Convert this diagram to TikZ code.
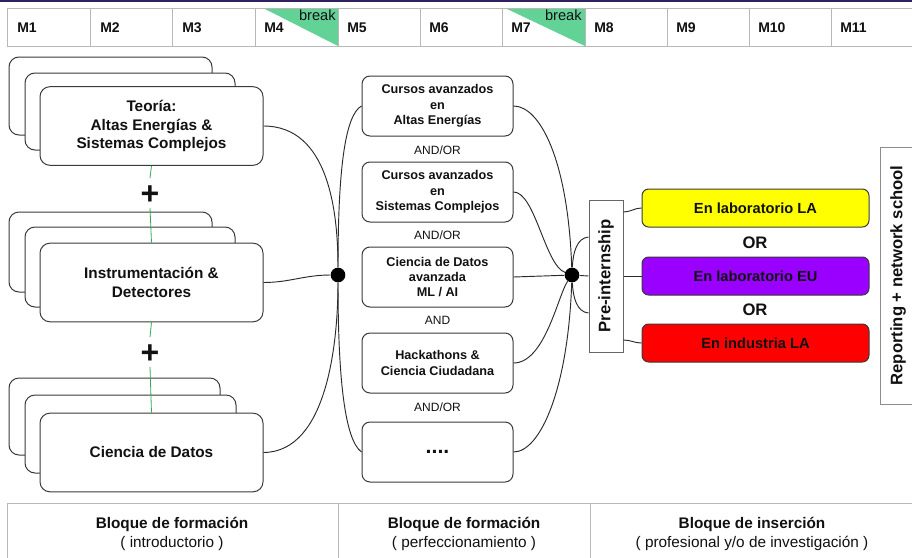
\documentclass[tikz,border=0pt]{standalone}
\usepackage{fontspec}
\usepackage{graphicx}
\setmainfont{Liberation Sans}
\usetikzlibrary{calc}
\definecolor{grn}{HTML}{63D297}
\definecolor{topline}{HTML}{2E1F5E}
\definecolor{gridc}{HTML}{B8B8B8}
\definecolor{boxc}{HTML}{3A3A3A}
\definecolor{linec}{HTML}{2A2A2A}
\definecolor{txt}{HTML}{111111}
\definecolor{yel}{HTML}{FFFF00}
\definecolor{pur}{HTML}{9900FF}
\definecolor{rd}{HTML}{FF0000}
\definecolor{lgreen}{HTML}{34A853}
\definecolor{prec}{HTML}{666666}
\definecolor{repc}{HTML}{8C8C8C}
\begin{document}
\begin{tikzpicture}[x=0.75pt,y=-0.75pt,
  lbox/.style={draw=boxc, line width=0.75pt, rounded corners=7.5pt, fill=white},
  lfront/.style={lbox, minimum width=167.25pt, minimum height=59pt, align=center,
    font=\bfseries\fontsize{11.5}{14}\selectfont, text=txt},
  mbox/.style={draw=boxc, line width=0.75pt, rounded corners=6pt, fill=white,
    minimum width=113.25pt, minimum height=45pt, align=center,
    font=\bfseries\fontsize{9.5}{11.5}\selectfont, text=txt},
  cbox/.style={draw=boxc, line width=0.75pt, rounded corners=5pt,
    minimum width=170.25pt, minimum height=28.5pt,
    font=\bfseries\fontsize{11}{13}\selectfont, text=txt},
  conn/.style={draw=linec, line width=0.7pt},
  jdot/.style={circle, fill=black, inner sep=0pt, minimum size=11pt},
  andlbl/.style={font=\fontsize{9}{10}\selectfont, text=txt, inner sep=1pt},
  orlbl/.style={font=\bfseries\fontsize{12.5}{14}\selectfont, text=txt, inner sep=1pt},
  mlbl/.style={anchor=west, inner sep=0pt, font=\bfseries\fontsize{10.5}{12}\selectfont, text=txt},
  brk/.style={anchor=north east, inner sep=0pt, font=\fontsize{11}{12}\selectfont, text=txt},
  plussign/.style={inner sep=0pt, font=\bfseries\fontsize{24}{24}\selectfont, text=txt,
    text height=16.8pt, text depth=0pt, minimum height=22pt},
  gline/.style={draw=lgreen, line width=0.6pt},
  gridline/.style={draw=gridc, line width=0.75pt},
  bot/.style={align=center, font=\fontsize{11.5}{14.25}\selectfont, text=txt},
  vbox/.style={line width=0.75pt, fill=white, font=\bfseries\fontsize{12.5}{14}\selectfont, text=txt},
]
\useasboundingbox (0,0) rectangle (912,557);
\fill[white] (0,0) rectangle (912,557);

% top month table
\fill[grn] (263,8) -- (338,8) -- (338,46) -- cycle;
\fill[grn] (505,8) -- (585,8) -- (585,46) -- cycle;
\draw[gridline] (7,8) rectangle (930,46);
\foreach \xx in {90,172,255,338,420,502,585,667,749,831}
  \draw[gridline] (\xx,8) -- (\xx,46);
\draw[topline, line width=1.2pt] (0,0.8) -- (912,0.8);
\node[mlbl] (m1l) at (17,28) {M1};
\node[mlbl] (m2l) at (100,28) {M2};
\node[mlbl] (m3l) at (182,28) {M3};
\node[mlbl] (m4l) at (264,28) {M4};
\node[mlbl] (m5l) at (347,28) {M5};
\node[mlbl] (m6l) at (429,28) {M6};
\node[mlbl] (m7l) at (511,28) {M7};
\node[mlbl] (m8l) at (594,28) {M8};
\node[mlbl] (m9l) at (676,28) {M9};
\node[mlbl] (m10l) at (758,28) {M10};
\node[mlbl] (m11l) at (840,28) {M11};
\node[brk] (brk1) at (336,9.5) {break};
\node[brk] (brk2) at (582,9.5) {break};

% left stacks
\draw[lbox] (9,57) rectangle (212,135);
\draw[lbox] (25,73) rectangle (235,150);
\node[lfront] (t1) at (151.5,126) {Teoría:\\Altas Energías \&\\Sistemas Complejos};
\draw[lbox] (9,212) rectangle (212,292);
\draw[lbox] (25,227) rectangle (235,307);
\node[lfront] (t2) at (151.5,282.5) {Instrumentación \&\\Detectores};
\draw[lbox] (9,378) rectangle (220,455);
\draw[lbox] (25,395) rectangle (236,473);
\node[lfront] (t3) at (151.5,452.5) {Ciencia de Datos};

\node[plussign] (p1) at (150,193) {+};
\node[plussign] (p2) at (150,352) {+};
\draw[gline] (t1.south) -- (p1.north);
\draw[gline] (p1.south) -- (t2.north);
\draw[gline] (t2.south) -- (p2.north);
\draw[gline] (p2.south) -- (t3.north);

% middle boxes
\node[mbox] (c1) at (437.5,106) {Cursos avanzados\\en\\Altas Energías};
\node[mbox] (c2) at (437.5,192) {Cursos avanzados\\en\\Sistemas Complejos};
\node[mbox] (c3) at (437.5,277) {Ciencia de Datos\\avanzada\\ML / AI};
\node[mbox] (c4) at (437.5,363) {Hackathons \&\\Ciencia Ciudadana};
\node[mbox, font=\bfseries\fontsize{16}{16}\selectfont] (c5) at (437.5,452) {....};
\node[andlbl] (a1) at (437.5,150) {AND/OR};
\node[andlbl] (a2) at (437.5,235) {AND/OR};
\node[andlbl] (a3) at (437.5,320) {AND};
\node[andlbl] (a4) at (437.5,407) {AND/OR};

% junctions
\node[jdot] (j1) at (338,275) {};
\node[jdot] (j2) at (572,275) {};

% connectors left -> j1
\draw[conn] (t1.east) .. controls (328,126) and (338,210) .. (j1);
\draw[conn] (t2.east) to[out=0,in=180] (j1);
\draw[conn] (t3.east) .. controls (328,452) and (338,340) .. (j1);
% j1 -> middle column
\draw[conn] (j1) .. controls (338,170) and (345,115) .. (c1.west);
\draw[conn] (j1) .. controls (338,380) and (345,440) .. (c5.west);
% middle column -> j2
\draw[conn] (c1.east) .. controls (540,106) and (568,160) .. (j2);
\draw[conn] (c2.east) .. controls (535,192) and (545,265) .. (j2);
\draw[conn] (c3.east) -- (j2);
\draw[conn] (c4.east) .. controls (545,363) and (558,295) .. (j2);
\draw[conn] (c5.east) .. controls (540,452) and (568,390) .. (j2);

% pre-internship
\node[vbox, draw=prec, minimum width=25.5pt, minimum height=114pt] (pre) at (606,276)
  {\rotatebox{90}{Pre-internship}};
\draw[conn] (j2) -- (pre.west);
\draw[conn] (j2) .. controls (573,252) and (577,238) .. ($(pre.west)+(0,-39)$);
\draw[conn] (j2) .. controls (573,298) and (577,312) .. ($(pre.west)+(0,37)$);

% destination boxes
\node[cbox, fill=yel] (la) at (755.5,208) {En laboratorio LA};
\node[cbox, fill=pur] (eu) at (755.5,276) {En laboratorio EU};
\node[cbox, fill=rd] (ind) at (755.5,343) {En industria LA};
\node[orlbl] (or1) at (755,243) {OR};
\node[orlbl] (or2) at (755,310) {OR};
\draw[conn] ($(pre.east)+(0,-64)$) to[out=0,in=180] (la.west);
\draw[conn] (pre.east) -- (eu.west);
\draw[conn] ($(pre.east)+(0,64)$) to[out=0,in=180] (ind.west);

% reporting
\node[vbox, draw=repc, minimum width=27pt, minimum height=192.75pt] (rep) at (898,275.5)
  {\rotatebox{90}{Reporting + network school}};

% bottom table
\draw[gridline] (7,503) rectangle (930,580);
\draw[gridline] (338,503) -- (338,580);
\draw[gridline] (590,503) -- (590,580);
\node[bot] (b1) at (172,533.5) {\textbf{Bloque de formación}\\( introductorio )};
\node[bot] (b2) at (464,533.5) {\textbf{Bloque de formación}\\( perfeccionamiento )};
\node[bot] (b3) at (752,533.5) {\textbf{Bloque de inserción}\\( profesional y/o de investigación )};
\end{tikzpicture}
\end{document}
